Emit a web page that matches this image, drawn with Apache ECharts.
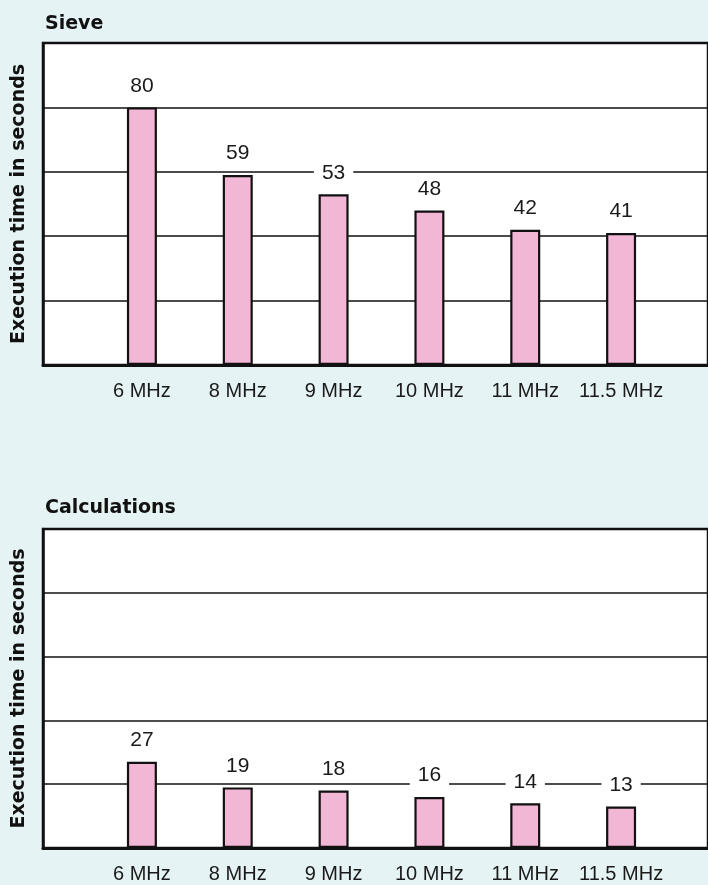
<!DOCTYPE html>
<html>
<head>
<meta charset="utf-8">
<script src="https://cdn.jsdelivr.net/npm/echarts@6/dist/echarts.min.js"></script>
<style>
  html, body { margin: 0; padding: 0; background: #e6f3f4; }
  #chart { width: 708px; height: 885px; }
</style>
</head>
<body>
<div id="chart"></div>
<script>
const categories = ['6 MHz', '8 MHz', '9 MHz', '10 MHz', '11 MHz', '11.5 MHz'];
const sieveTimes = [80, 59, 53, 48, 42, 41];
const calcTimes = [27, 19, 18, 16, 14, 13];
const panelTitles = ['Sieve', 'Calculations'];
const yAxisTitle = 'Execution time in seconds';
const yMin = 0, yMax = 100, yStep = 20;

const panels = [
  { top: 43, height: 322, data: sieveTimes, title: panelTitles[0], titleTop: 10 },
  { top: 529, height: 319, data: calcTimes, title: panelTitles[1], titleTop: 494 }
];

const chart = echarts.init(document.getElementById('chart'), null, { renderer: 'canvas' });

const grid = [], xAxis = [], yAxis = [], series = [], title = [];
panels.forEach((p, i) => {
  grid.push({ left: 43, right: -10, top: p.top, height: p.height, show: true,
    backgroundColor: '#ffffff', borderColor: '#111', borderWidth: 2.5 });
  grid.push({ left: 94, width: 575, top: p.top, height: p.height, show: false });
  const fg = i * 2, bg = i * 2 + 1;
  xAxis.push({ gridIndex: fg, type: 'value', min: 0, max: 1,
    axisLine: { show: true, onZero: false, lineStyle: { color: '#111', width: 3 } },
    axisTick: { show: false }, axisLabel: { show: false }, splitLine: { show: false } });
  xAxis.push({ gridIndex: bg, type: 'category', data: categories,
    axisLine: { show: false }, axisTick: { show: false }, splitLine: { show: false },
    axisLabel: { interval: 0, margin: 16, fontSize: 20, color: '#1a1a1a', fontFamily: 'Liberation Sans' } });
  yAxis.push({ gridIndex: fg, type: 'value', min: yMin, max: yMax, interval: yStep,
    name: yAxisTitle, nameLocation: 'middle', nameRotate: 90, nameGap: 14,
    nameTextStyle: { fontSize: 19, fontWeight: 'bold', color: '#111', fontFamily: 'DejaVu Sans' },
    axisLine: { show: true, lineStyle: { color: '#111', width: 2.5 } },
    axisTick: { show: false }, axisLabel: { show: false },
    splitLine: { show: true, lineStyle: { color: '#111', width: 1.5 } } });
  yAxis.push({ gridIndex: bg, type: 'value', min: yMin, max: yMax, interval: yStep, show: false });
  series.push({ type: 'bar', xAxisIndex: bg, yAxisIndex: bg, data: p.data, barWidth: 30, z: 5,
    itemStyle: { color: '#f1b7d4', borderColor: '#111', borderWidth: 2.2 },
    label: { show: true, position: 'top', distance: 9, fontSize: 21, color: '#1a1a1a',
      fontFamily: 'Liberation Sans', backgroundColor: '#ffffff', padding: [2, 8] } });
  title.push({ text: p.title, left: 40, top: p.titleTop,
    textStyle: { fontSize: 19, fontWeight: 'bold', color: '#111', fontFamily: 'DejaVu Sans' } });
});

chart.setOption({ animation: false, backgroundColor: '#e6f3f4', title, grid, xAxis, yAxis, series });
</script>
</body>
</html>
